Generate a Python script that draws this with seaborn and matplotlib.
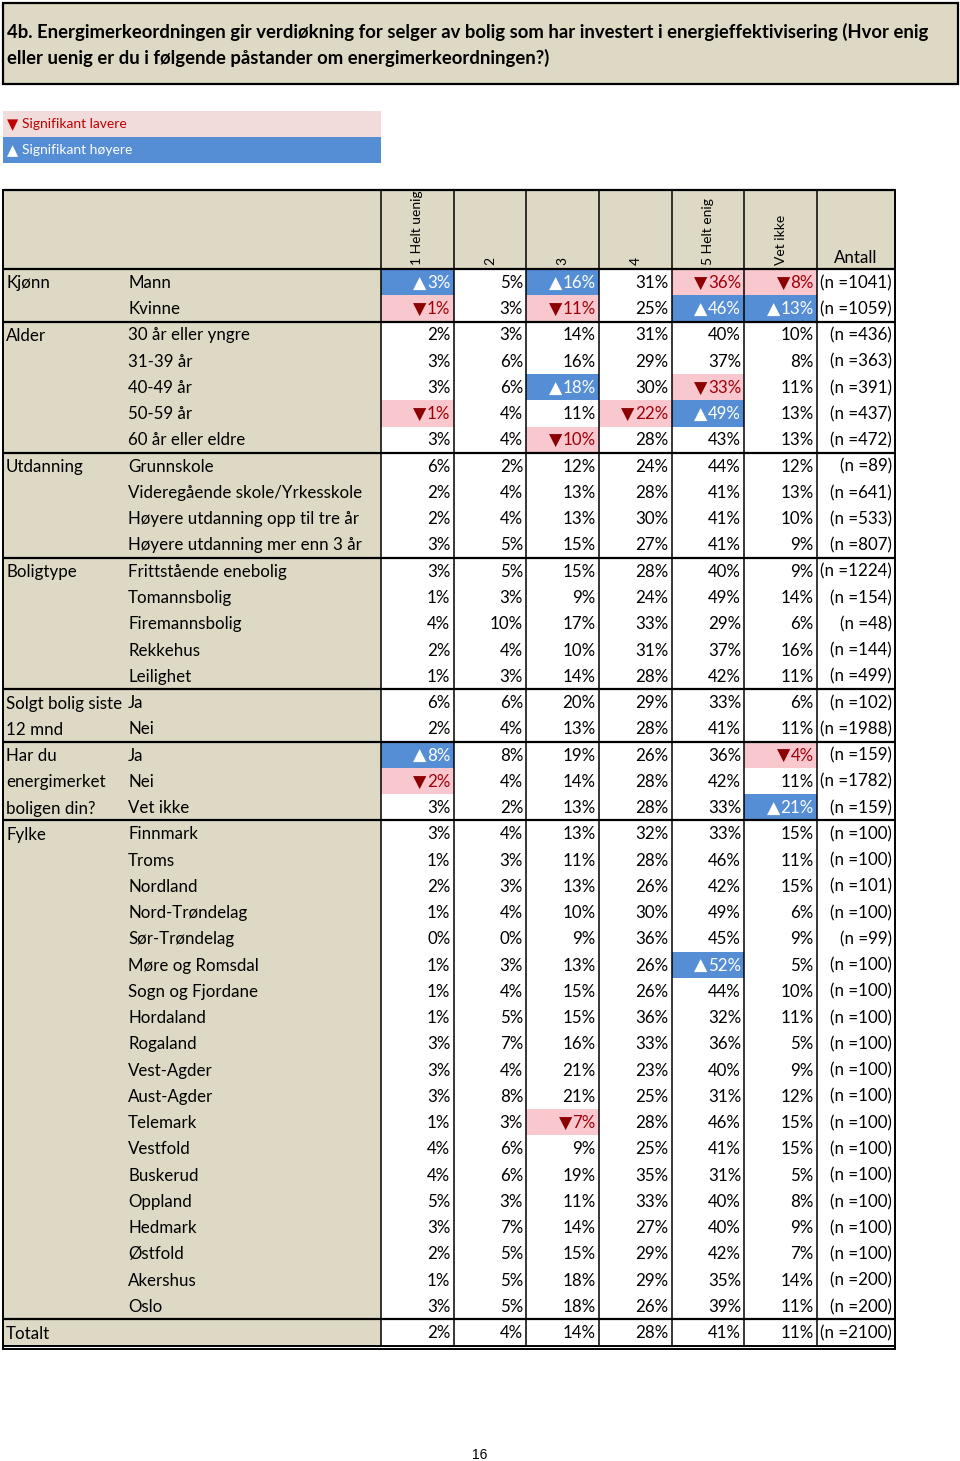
import numpy as np
import pandas as pd
import matplotlib
matplotlib.use("Agg")
import matplotlib.pyplot as plt
from matplotlib.colors import ListedColormap
import seaborn as sns

# ---------------- data ----------------
title = ("4b. Energimerkeordningen gir verdiøkning for selger av bolig som har investert i energieffektivisering (Hvor enig\n"
         "eller uenig er du i følgende påstander om energimerkeordningen?)")
columns = ["1 Helt uenig", "2", "3", "4", "5 Helt enig", "Vet ikke"]
count_header = "Antall"

groups = ["Kjønn", "Alder", "Utdanning", "Boligtype", "Solgt bolig siste\n12 mnd",
          "Har du\nenergimerket\nboligen din?", "Fylke", "Totalt"]
group_sizes = [2, 5, 4, 5, 2, 3, 19, 1]

row_labels = ["Mann", "Kvinne",
              "30 år eller yngre", "31-39 år", "40-49 år", "50-59 år", "60 år eller eldre",
              "Grunnskole", "Videregående skole/Yrkesskole", "Høyere utdanning opp til tre år",
              "Høyere utdanning mer enn 3 år",
              "Frittstående enebolig", "Tomannsbolig", "Firemannsbolig", "Rekkehus", "Leilighet",
              "Ja", "Nei",
              "Ja", "Nei", "Vet ikke",
              "Finnmark", "Troms", "Nordland", "Nord-Trøndelag", "Sør-Trøndelag", "Møre og Romsdal",
              "Sogn og Fjordane", "Hordaland", "Rogaland", "Vest-Agder", "Aust-Agder", "Telemark",
              "Vestfold", "Buskerud", "Oppland", "Hedmark", "Østfold", "Akershus", "Oslo",
              ""]

helt_uenig = [3, 1, 2, 3, 3, 1, 3, 6, 2, 2, 3, 3, 1, 4, 2, 1, 6, 2, 8, 2, 3,
              3, 1, 2, 1, 0, 1, 1, 1, 3, 3, 3, 1, 4, 4, 5, 3, 2, 1, 3, 2]
val_2 = [5, 3, 3, 6, 6, 4, 4, 2, 4, 4, 5, 5, 3, 10, 4, 3, 6, 4, 8, 4, 2,
         4, 3, 3, 4, 0, 3, 4, 5, 7, 4, 8, 3, 6, 6, 3, 7, 5, 5, 5, 4]
val_3 = [16, 11, 14, 16, 18, 11, 10, 12, 13, 13, 15, 15, 9, 17, 10, 14, 20, 13, 19, 14, 13,
         13, 11, 13, 10, 9, 13, 15, 15, 16, 21, 21, 7, 9, 19, 11, 14, 15, 18, 18, 14]
val_4 = [31, 25, 31, 29, 30, 22, 28, 24, 28, 30, 27, 28, 24, 33, 31, 28, 29, 28, 26, 28, 28,
         32, 28, 26, 30, 36, 26, 26, 36, 33, 23, 25, 28, 25, 35, 33, 27, 29, 29, 26, 28]
helt_enig = [36, 46, 40, 37, 33, 49, 43, 44, 41, 41, 41, 40, 49, 29, 37, 42, 33, 41, 36, 42, 33,
             33, 46, 42, 49, 45, 52, 44, 32, 36, 40, 31, 46, 41, 31, 40, 40, 42, 35, 39, 41]
vet_ikke = [8, 13, 10, 8, 11, 13, 13, 12, 13, 10, 9, 9, 14, 6, 16, 11, 6, 11, 4, 11, 21,
            15, 11, 15, 6, 9, 5, 10, 11, 5, 9, 12, 15, 15, 5, 8, 9, 7, 14, 11, 11]
n_counts = [1041, 1059, 436, 363, 391, 437, 472, 89, 641, 533, 807, 1224, 154, 48, 144, 499,
            102, 1988, 159, 1782, 159,
            100, 100, 101, 100, 99, 100, 100, 100, 100, 100, 100, 100, 100, 100, 100, 100, 100,
            200, 200, 2100]

# significance: (row index, column index)
sig_higher = [(0, 0), (0, 2), (1, 4), (1, 5), (4, 2), (5, 4), (18, 0), (20, 5), (26, 4)]
sig_lower = [(0, 4), (0, 5), (1, 0), (1, 2), (4, 4), (5, 0), (5, 3), (6, 2), (19, 0), (18, 5), (32, 2)]

# ---------------- styling ----------------
sns.set_theme(style="white")
plt.rcParams['font.family'] = ['Lato', 'DejaVu Sans']
plt.rcParams['text.color'] = 'black'

BEIGE = "#DDD9C4"
PINK = "#F9C8CE"
BLUE = "#558ED5"
LEG_PINK = "#F2DCDB"
RED_TXT = "#9C0006"
TRI_RED = "#8B0000"
LEG_RED = "#C00000"
FS = 12.2

W, H = 960, 1461
fig = plt.figure(figsize=(W / 100, H / 100), dpi=100)

tab_left, tab_right = 3, 895
label_right = 381
data_right = 817
head_top, head_bot = 190, 269
tab_bot = 1345.5
nrows = len(row_labels)
rh = (tab_bot - head_bot) / nrows


def fx(x):
    return x / W


def fy(y):
    return 1 - y / H


vals = np.array([helt_uenig, val_2, val_3, val_4, helt_enig, vet_ikke]).T
sig = np.zeros_like(vals)
for r, c in sig_higher:
    sig[r, c] = 1
for r, c in sig_lower:
    sig[r, c] = -1
sig_df = pd.DataFrame(sig, columns=columns)

hax = fig.add_axes([fx(label_right), fy(tab_bot), fx(data_right - label_right),
                    (tab_bot - head_bot) / H])
cmap = ListedColormap([PINK, "white", BLUE])
sns.heatmap(sig_df, ax=hax, cmap=cmap, vmin=-1.5, vmax=1.5, cbar=False,
            xticklabels=False, yticklabels=False, linewidths=0)
hax.set_xlabel("")
hax.set_ylabel("")

fig.canvas.draw()
renderer = fig.canvas.get_renderer()
inv = hax.transData.inverted()

for r in range(nrows):
    for c in range(len(columns)):
        v = vals[r, c]
        s = sig[r, c]
        col = "black" if s == 0 else ("white" if s == 1 else RED_TXT)
        t = hax.text(c + 0.955, r + 0.53, f"{v}%", ha="right", va="center", fontsize=FS,
                     color=col)
        if s != 0:
            bb = t.get_window_extent(renderer)
            x0 = inv.transform((bb.x0 - 0.5, 0))[0]
            tri = "▲" if s == 1 else "▼"
            hax.text(x0, r + 0.56, tri, ha="right", va="center", fontsize=12.5,
                     family="DejaVu Sans", color="white" if s == 1 else TRI_RED)

ax = fig.add_axes([0, 0, 1, 1], facecolor="none")
ax.set_xlim(0, W)
ax.set_ylim(H, 0)
ax.axis("off")

# title box
ax.add_patch(plt.Rectangle((3, 3), 955, 81, facecolor=BEIGE, edgecolor="black", lw=1.6))
ax.text(7, 32, title.split("\n")[0], ha="left", va="center", fontsize=13.3, fontweight="bold")
ax.text(7, 58, title.split("\n")[1], ha="left", va="center", fontsize=13.3, fontweight="bold")

# legend boxes
ax.add_patch(plt.Rectangle((3, 111), 378, 26, facecolor=LEG_PINK, edgecolor="none"))
ax.add_patch(plt.Rectangle((3, 137), 378, 26, facecolor=BLUE, edgecolor="none"))
ax.text(7, 124.5, "▼", ha="left", va="center", fontsize=10.5, color=LEG_RED, family="DejaVu Sans")
ax.text(22, 124.5, "Signifikant lavere", ha="left", va="center", fontsize=10, color=LEG_RED)
ax.text(7, 150.5, "▲", ha="left", va="center", fontsize=10.5, color="white", family="DejaVu Sans")
ax.text(22, 150.5, "Signifikant høyere", ha="left", va="center", fontsize=10, color="white")

# beige areas
ax.add_patch(plt.Rectangle((tab_left, head_top), tab_right - tab_left, head_bot - head_top,
                           facecolor=BEIGE, edgecolor="none", zorder=0))
ax.add_patch(plt.Rectangle((tab_left, head_bot), label_right - tab_left, tab_bot - head_bot,
                           facecolor=BEIGE, edgecolor="none", zorder=0))

# column headers
col_w = (data_right - label_right) / len(columns)
for i, name in enumerate(columns):
    xc = label_right + (i + 0.5) * col_w
    ax.text(xc, head_bot - 4, name, rotation=90, ha="center", va="bottom", fontsize=10)
ax.text((data_right + tab_right) / 2, head_bot - 3, count_header, ha="center", va="bottom",
        fontsize=FS)

# row labels, n counts
for r, lab in enumerate(row_labels):
    yc = head_bot + (r + 0.53) * rh
    ax.text(128, yc, lab, ha="left", va="center", fontsize=FS)
    ax.text(tab_right - 3, yc, f"(n ={n_counts[r]})", ha="right", va="center", fontsize=FS)

# group labels and separators
start = 0
for g, size in zip(groups, group_sizes):
    for k, line in enumerate(g.split("\n")):
        ax.text(6, head_bot + (start + k + 0.55) * rh, line, ha="left", va="center",
                fontsize=FS)
    y = head_bot + start * rh
    ax.plot([tab_left, tab_right], [y, y], color="black", lw=1.6, solid_capstyle="butt")
    start += size

# vertical lines
for x in [label_right + i * col_w for i in range(len(columns) + 1)]:
    ax.plot([x, x], [head_top, tab_bot], color="black", lw=1.1)
ax.plot([tab_right, tab_right], [head_top, tab_bot + 3], color="black", lw=1.4)
ax.plot([tab_left, tab_left], [head_top, tab_bot + 3], color="black", lw=1.4)
ax.plot([tab_left, tab_right], [head_top, head_top], color="black", lw=1.6)
ax.plot([tab_left, tab_right], [tab_bot, tab_bot], color="black", lw=1.4)
ax.plot([tab_left, tab_right], [tab_bot + 3, tab_bot + 3], color="black", lw=1.4)

# page number
ax.text(480, 1455, "16", ha="center", va="center", fontsize=10, family="Liberation Sans",
        color="black")

fig.savefig("out.png", dpi=100)
